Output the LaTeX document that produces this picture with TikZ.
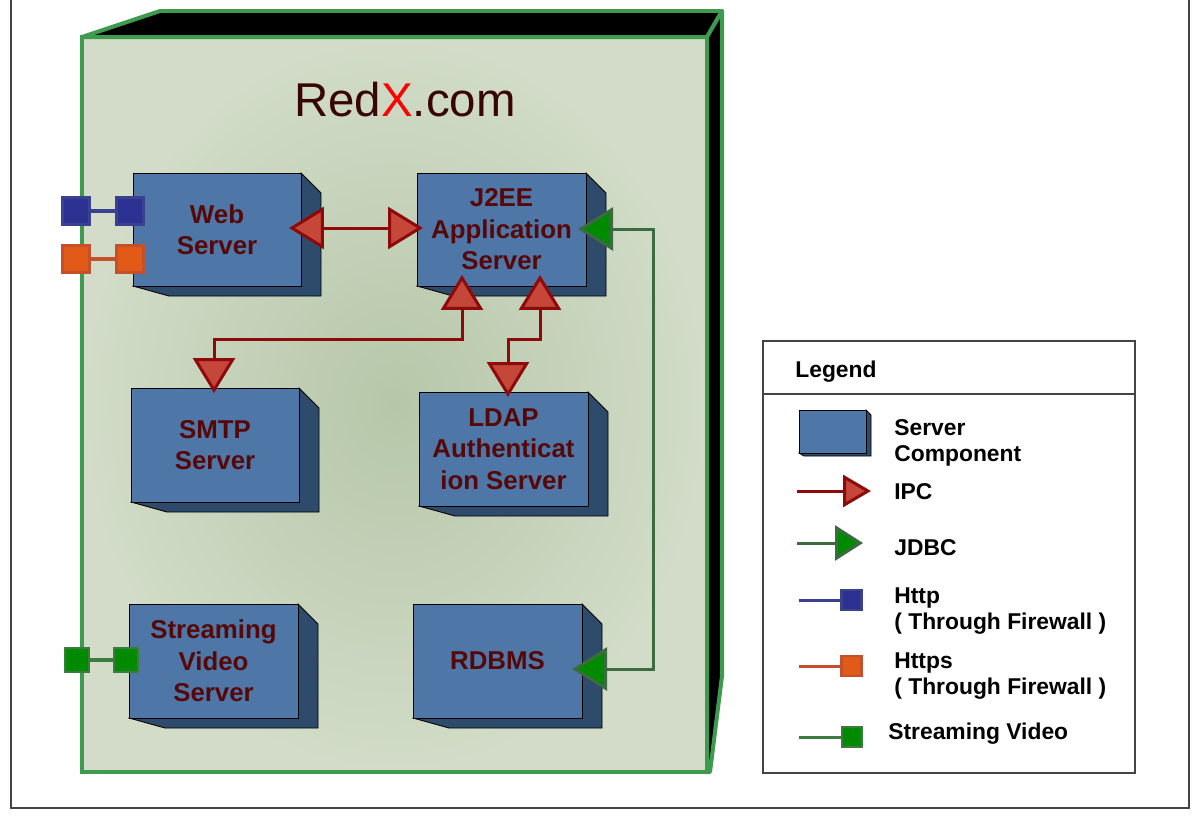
\documentclass[tikz,border=0pt]{standalone}
\usepackage{fontspec}
\setmainfont{Liberation Sans}
\usetikzlibrary{arrows.meta,calc}
\definecolor{frontc}{HTML}{4E76A6}
\definecolor{sidec}{HTML}{2F4B6C}
\definecolor{txtc}{HTML}{560808}
\definecolor{titlec}{HTML}{380404}
\definecolor{ipcline}{HTML}{8E0A0A}
\definecolor{ipcfill}{HTML}{C4473A}
\definecolor{jdline}{HTML}{3C6B40}
\definecolor{jdfill}{HTML}{008A00}
\definecolor{nodegreen}{HTML}{3E9A4E}
\definecolor{outerc}{HTML}{D2DCC8}
\definecolor{innerc}{HTML}{B6C7A9}
\definecolor{httpfill}{HTML}{2D3192}
\definecolor{httpline}{HTML}{3A4290}
\definecolor{httpsfill}{HTML}{E25A18}
\definecolor{httpsline}{HTML}{C4512C}
\definecolor{svfill}{HTML}{008A00}
\definecolor{svline}{HTML}{3C7A40}
\definecolor{framec}{HTML}{444444}
\tikzset{
  srv/.style={draw=black,line width=0.5pt,fill=frontc,inner sep=0pt,outer sep=0pt,align=center,
    text=txtc,font=\bfseries\fontsize{14.7}{17.9}\selectfont},
  ipctip/.tip={Triangle[length=0.7cm,width=0.84cm,fill=ipcfill]},
  jdtip/.tip={Triangle[length=0.7cm,width=0.86cm,fill=jdfill]},
  ipctipsm/.tip={Triangle[length=0.56cm,width=0.64cm,fill=ipcfill]},
  jdtipsm/.tip={Triangle[length=0.56cm,width=0.7cm,fill=jdfill]},
  ipc/.style={draw=ipcline,line width=0.06cm,arrows={ipctip-ipctip}},
  jdbc/.style={draw=jdline,line width=0.06cm,arrows={jdtip-jdtip}},
  port/.style={minimum size=0.54cm,inner sep=0pt,outer sep=0pt,line width=0.05cm},
  lport/.style={minimum size=0.4cm,inner sep=0pt,outer sep=0pt,line width=0.05cm},
  lgtext/.style={anchor=west,inner sep=0pt,align=left,text=black,font=\bfseries\fontsize{13}{14.8}\selectfont},
}
\newcommand{\srvbox}[6]{%
  \fill[sidec,draw=black,line width=0.5pt] (#4,#3) -- (#4+20,#3+20) -- (#4+20,#5+10) -- (#2+36,#5+10) -- (#2,#5) -- cycle;
  \node[srv,minimum width={(#4-#2)*0.02cm},minimum height={(#5-#3)*0.02cm}] (#1) at ({(#2+#4)/2},{(#3+#5)/2}) {#6};
}
\begin{document}
\begin{tikzpicture}[x=0.02cm,y=-0.02cm]
\useasboundingbox (0,0) rectangle (1199,818);
\fill[white] (0,0) rectangle (1199,818);
% outer frame
\draw[framec,line width=0.045cm] (11,-5) -- (11,808) -- (1189,808) -- (1189,-5);
% big node
\shade[draw=nodegreen,line width=0.08cm,inner color=innerc,outer color=outerc] (82,37) rectangle (707,772);
\filldraw[fill=black,draw=nodegreen,line width=0.08cm,line join=round] (82,37) -- (160,11) -- (722,11) -- (707,37) -- cycle;
\filldraw[fill=black,draw=nodegreen,line width=0.08cm,line join=round] (707,37) -- (722,11) -- (722,676) -- (710,772) -- (707,772) -- cycle;
\node[font=\fontsize{27}{30}\selectfont,text=titlec] (title) at (405,100) {Red{\color{red}X}.com};
% servers
\srvbox{web}{133}{173}{301}{286}{Web\\Server}
\srvbox{j2ee}{417}{173}{586}{286}{J2EE\\Application\\Server}
\srvbox{smtp}{131}{388}{299}{502}{SMTP\\Server}
\srvbox{ldap}{419}{392}{588}{506}{LDAP\\Authenticat\\ion Server}
\srvbox{svs}{129}{604}{298}{718}{Streaming\\Video\\Server}
\srvbox{rdbms}{413}{604}{582}{718}{RDBMS}
% IPC connectors
\draw[ipc] ($(web.east)+(-12,-1.5)$) -- ($(j2ee.west)+(6,-1.5)$);
\coordinate (jS1) at ($(j2ee.south)+(-39.5,-11)$);
\coordinate (jS2) at ($(j2ee.south)+(38.5,-11)$);
\coordinate (smT) at ($(smtp.north)+(-1,5)$);
\coordinate (ldT) at ($(ldap.north)+(4.5,5)$);
\draw[ipc] (jS1) -- ++(0,64) -| (smT);
\draw[ipc] (jS2) -- ++(0,64) -| (ldT);
% JDBC
\coordinate (jdA) at ($(j2ee.east)+(-8,-0.5)$);
\coordinate (jdB) at ($(rdbms.east)+(-10,8)$);
\draw[jdbc] (jdA) -- ++(75,0) |- (jdB);
% ports
\node[port,fill=httpfill,draw=httpline] (h1) at (76,211) {};
\node[port,fill=httpfill,draw=httpline] (h2) at (130,211) {};
\draw[httpline,line width=0.07cm] (h1) -- (h2);
\node[port,fill=httpsfill,draw=httpsline] (s1) at (76,259) {};
\node[port,fill=httpsfill,draw=httpsline] (s2) at (130,259) {};
\draw[httpsline,line width=0.07cm] (s1) -- (s2);
\node[port,minimum size=0.48cm,fill=svfill,draw=svline] (v1) at (77,660) {};
\node[port,minimum size=0.48cm,fill=svfill,draw=svline] (v2) at (126,660) {};
\draw[svline,line width=0.07cm] (v1) -- (v2);
% legend
\node[draw=framec,line width=0.045cm,minimum width=7.44cm,minimum height=8.64cm,inner sep=0pt] (legend) at (949,557) {};
\draw[framec,line width=0.045cm] (763,394) -- (1135,394);
\node[lgtext] (lgtitle) at (795,372) {Legend};
\fill[sidec,draw=black,line width=0.5pt] (866,410) -- (871,415) -- (871,456) -- (804,456) -- (799,453) -- cycle;
\node[draw=black,line width=0.5pt,fill=frontc,minimum width=1.34cm,minimum height=0.86cm,inner sep=0pt] (lgbox) at (832.5,431.5) {};
\node[lgtext] (lgsrv) at (894,443) {Server\\Component};
\coordinate (ipcS) at (797,491);
\coordinate (ipcT) at (871,491);
\draw[draw=ipcline,line width=0.06cm,arrows={-ipctipsm}] (ipcS) -- (ipcT);
\node[lgtext] (lgipc) at (894,492) {IPC};
\coordinate (jdS) at (797,543);
\coordinate (jdT) at (863,543);
\draw[draw=jdline,line width=0.06cm,arrows={-jdtipsm}] (jdS) -- (jdT);
\node[lgtext] (lgjdbc) at (894,548) {JDBC};
\coordinate (htS) at (799,600);
\node[lport,fill=httpfill,draw=httpline] (htQ) at (851.5,600) {};
\draw[httpline,line width=0.06cm] (htS) -- (htQ);
\node[lgtext] (lghttp) at (894,611) {Http\\( Through Firewall )};
\coordinate (hsS) at (799,666);
\node[lport,fill=httpsfill,draw=httpsline] (hsQ) at (851.5,666) {};
\draw[httpsline,line width=0.06cm] (hsS) -- (hsQ);
\node[lgtext] (lghttps) at (894,676) {Https\\( Through Firewall )};
\coordinate (svS) at (799,737);
\node[lport,fill=svfill,draw=svline] (svQ) at (852,737) {};
\draw[svline,line width=0.06cm] (svS) -- (svQ);
\node[lgtext] (lgsv) at (888,734) {Streaming Video};
\end{tikzpicture}
\end{document}
